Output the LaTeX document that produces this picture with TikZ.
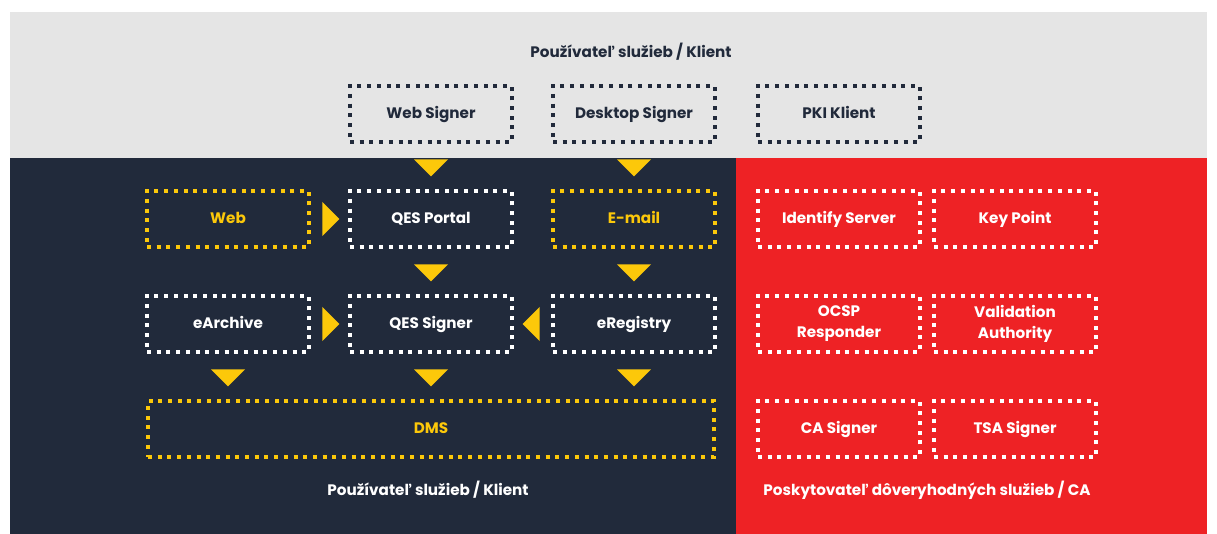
\documentclass[tikz,border=0pt]{standalone}
\usepackage{fontspec}
\setmainfont{Poppins}
\usetikzlibrary{positioning, shapes.geometric}
\definecolor{navy}{HTML}{212A3B}
\definecolor{redca}{HTML}{EE2225}
\definecolor{greyband}{HTML}{E5E5E5}
\definecolor{gold}{HTML}{FCC80A}

\begin{document}
\begin{tikzpicture}[x=1pt, y=-1pt, node distance=49pt and 41pt,
	box/.style={draw, line width=4pt, dash pattern=on 4pt off 5.7pt, minimum width=162pt, minimum height=56pt, inner sep=0pt, outer sep=0pt, align=center, text height=10.6pt, text depth=2.4pt, font=\bfseries\fontsize{15.2}{21}\selectfont},
	twoline/.style={text height=, text depth=},
	topbox/.style={box, draw=navy, text=navy},
	whitebox/.style={box, draw=white, text=white},
	goldbox/.style={box, draw=gold, text=gold},
	tridown/.style={isosceles triangle, isosceles triangle apex angle=90, shape border rotate=-90, fill=gold, inner sep=0pt, minimum width=34pt, minimum height=17pt},
	triright/.style={tridown, shape border rotate=0},
	trileft/.style={tridown, shape border rotate=180},
	caption/.style={font=\bfseries\fontsize{15.2}{21}\selectfont}]

	% bands %
	\useasboundingbox (0,0) rectangle (1217,534);
	\fill[greyband] (10,12) rectangle (1207,158.5);
	\fill[navy] (10,158.5) rectangle (736,534);
	\fill[redca] (736,158.5) rectangle (1207,534);

	% nodes - client apps %
	\node[topbox] (websigner) at (431,114) {Web Signer};
	\node[topbox, right=of websigner] (desktopsigner) {Desktop Signer};
	\node[topbox, right=43pt of desktopsigner] (pkiklient) {PKI Klient};
	\node[caption, text=navy] (topcap) at (631,52) {Používateľ služieb / Klient};

	% nodes - client side %
	\node[whitebox, below=of websigner] (qesportal) {QES Portal};
	\node[goldbox, left=of qesportal] (web) {Web};
	\node[goldbox, below=of desktopsigner] (email) {E-mail};
	\node[whitebox, below=of qesportal] (qessigner) {QES Signer};
	\node[whitebox, left=of qessigner] (earchive) {eArchive};
	\node[whitebox, below=of email] (eregistry) {eRegistry};
	\node[goldbox, below=of qessigner, minimum width=566pt] (dms) {DMS};
	\node[caption, text=white] (leftcap) at (428,490) {Používateľ služieb / Klient};

	% nodes - trust services %
	\node[whitebox, below=of pkiklient] (identify) {Identify Server};
	\node[whitebox, right=14pt of identify] (keypoint) {Key Point};
	\node[whitebox, twoline, below=of identify] (ocsp) {OCSP\\Responder};
	\node[whitebox, twoline, below=of keypoint] (validation) {Validation\\Authority};
	\node[whitebox, below=of ocsp] (casigner) {CA Signer};
	\node[whitebox, below=of validation] (tsasigner) {TSA Signer};
	\node[caption, text=white] (rightcap) at (927,490) {Poskytovateľ dôveryhodných služieb / CA};

	% edges %
	\path (websigner) -- node[tridown] {} (qesportal);
	\path (desktopsigner) -- node[tridown] {} (email);
	\path (web) -- node[triright] {} (qesportal);
	\path (qesportal) -- node[tridown] {} (qessigner);
	\path (email) -- node[tridown] {} (eregistry);
	\path (earchive) -- node[triright] {} (qessigner);
	\path (eregistry) -- node[trileft] {} (qessigner);
	\path (earchive.south) -- node[tridown] {} (earchive.south |- dms.north);
	\path (qessigner.south) -- node[tridown] {} (dms.north);
	\path (eregistry.south) -- node[tridown] {} (eregistry.south |- dms.north);

\end{tikzpicture}
\end{document}
